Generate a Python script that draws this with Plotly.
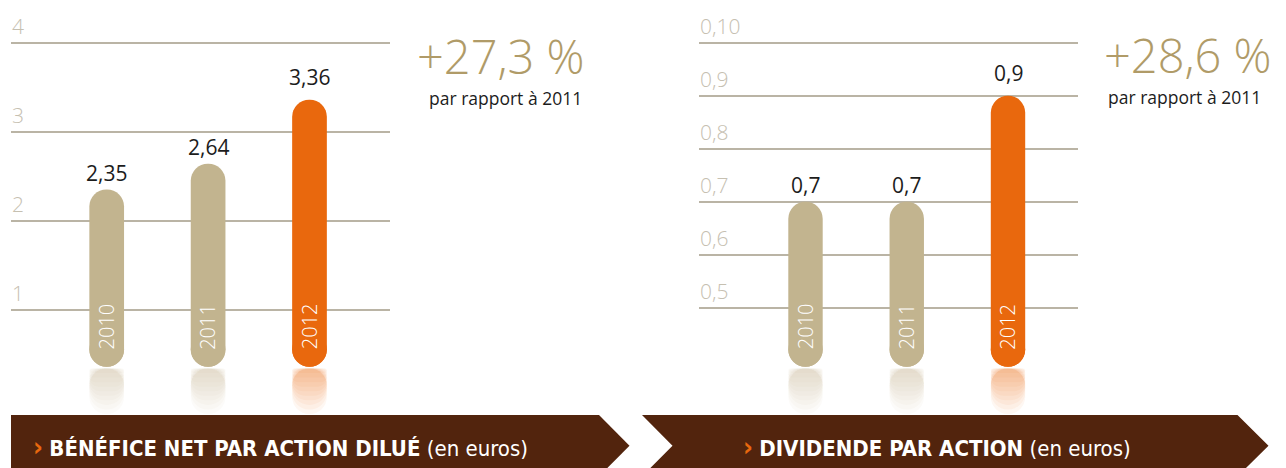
import plotly.graph_objects as go

# data
years = ["2010", "2011", "2012"]
eps = [2.35, 2.64, 3.36]           # bénéfice net par action dilué
dividend = [0.70, 0.70, 0.90]      # dividende par action
eps_ticks = [1, 2, 3, 4]
eps_ticktext = ["1", "2", "3", "4"]
div_ticks = [0.5, 0.6, 0.7, 0.8, 0.9, 1.0]
div_ticktext = ["0,5", "0,6", "0,7", "0,8", "0,9", "0,10"]
titles = ["BÉNÉFICE NET PAR ACTION DILUÉ", "DIVIDENDE PAR ACTION"]
unit = "(en euros)"

# the page body has an 8px margin, so the figure is a bit smaller and
# everything measured on the reference is shifted by OFF
OFF = 8
W, H = 1286 - OFF, 468 - OFF
BEIGE = "#c2b48f"
ORANGE = "#e9680d"
GOLD = "#b09b68"
BROWN = "#52240d"
GRID = "#bab4a5"
TICK = "#c6c0b1"
FONT = "Open Sans"
NARROW = "Liberation Sans Narrow, DejaVu Sans Condensed, sans-serif"


def px(x):
    return (x - OFF) / W


def py(y):
    return 1 - (y - OFF) / H


def fmt(v, nd):
    return f"{v:.{nd}f}".replace(".", ",")


# panel geometry, reference pixels
panels = [
    dict(xa="x", ya="y", x0=11, x1=390, c0=106.7, step=101.4, bwpx=34.7,
         zero=398.7, ppu=89.0, bottom=366.7,
         values=eps, ticks=eps_ticks, ticktext=eps_ticktext, nd=2,
         pct_x=501, pct_y=56, sub_x=505, sub_y=98),
    dict(xa="x2", ya="y2", x0=699, x1=1078, c0=805.5, step=101.25, bwpx=34.4,
         zero=572.7, ppu=530.0, bottom=366.7,
         values=dividend, ticks=div_ticks, ticktext=div_ticktext, nd=1,
         pct_x=1188, pct_y=54.5, sub_x=1184, sub_y=97),
]

fig = go.Figure()
annotations = []
colors = [BEIGE, BEIGE, ORANGE]

for i, p in enumerate(panels):
    val = lambda ypx, p=p: (p["zero"] - ypx) / p["ppu"]
    r = p["bwpx"] / 2
    bw = p["bwpx"] / p["step"]
    bottom = val(p["bottom"])
    foot = val(p["bottom"] - r)
    vals = p["values"]

    # the pill: one bar running from the cut-off bottom to the value
    fig.add_trace(go.Bar(
        x=years, y=[v - bottom for v in vals], base=[bottom] * 3, width=bw,
        marker=dict(color=colors, cornerradius="50%", line_width=0),
        xaxis=p["xa"], yaxis=p["ya"], hoverinfo="skip", showlegend=False))
    # rounded foot of the pill
    fig.add_trace(go.Scatter(
        x=years, y=[foot] * 3, mode="markers", cliponaxis=False,
        marker=dict(symbol="circle", size=p["bwpx"], color=colors,
                    line=dict(width=0)),
        xaxis=p["xa"], yaxis=p["ya"], hoverinfo="skip", showlegend=False))

    # faded reflection under each pill
    r_top = val(368.5)
    r_len = val(368.5) - val(414)
    n = 10
    for k in range(1, n + 1):
        h = r_len * k / n
        fig.add_trace(go.Bar(
            x=years, y=[h] * 3, base=[r_top - h] * 3, width=bw,
            marker=dict(color=colors, cornerradius=17, line_width=0, opacity=0.055),
            xaxis=p["xa"], yaxis=p["ya"], hoverinfo="skip", showlegend=False))

    # value labels above bars, years inside bars
    for j, v in enumerate(vals):
        annotations.append(dict(
            x=j, y=v, xref=p["xa"], yref=p["ya"], text=fmt(v, p["nd"]),
            showarrow=False, xanchor="center", yanchor="middle",
            yshift=23 if j == 2 else 17,
            font=dict(family=FONT, size=21, color="#1c1c1c", weight=500)))
        annotations.append(dict(
            x=j, y=bottom, xref=p["xa"], yref=p["ya"], text=years[j],
            textangle=-90, showarrow=False, xanchor="center", yanchor="bottom",
            yshift=15, font=dict(family=FONT, size=20, color="white", weight=300)))

    # tick labels sit above their gridlines
    for t, tt in zip(p["ticks"], p["ticktext"]):
        annotations.append(dict(
            x=px(p["x0"]), y=t, xref="paper", yref=p["ya"], text=tt,
            showarrow=False, xanchor="left", yanchor="middle", yshift=17, xshift=-1,
            font=dict(family=FONT, size=21, color=TICK, weight=300)))

    # growth vs previous year
    growth = (vals[2] / vals[1] - 1) * 100
    annotations.append(dict(
        x=px(p["pct_x"]), y=py(p["pct_y"]), xref="paper", yref="paper",
        text=f"+{fmt(growth, 1)} %", showarrow=False,
        xanchor="center", yanchor="middle",
        font=dict(family=FONT, size=47, color=GOLD, weight=300)))
    annotations.append(dict(
        x=px(p["sub_x"]), y=py(p["sub_y"]), xref="paper", yref="paper",
        text=f"par rapport à {years[1]}", showarrow=False,
        xanchor="center", yanchor="middle",
        font=dict(family=FONT, size=17.5, color="#1c1c1c", weight=500)))

    # axes
    xr = [(p["x0"] - p["c0"]) / p["step"], (p["x1"] - p["c0"]) / p["step"]]
    yr = [(p["zero"] - 468) / p["ppu"], (p["zero"] - OFF) / p["ppu"]]
    xname = "xaxis" if i == 0 else "xaxis2"
    yname = "yaxis" if i == 0 else "yaxis2"
    fig.update_layout({
        xname: dict(domain=[px(p["x0"]), px(p["x1"])], range=xr, anchor=p["ya"],
                    type="category", showgrid=False, showticklabels=False,
                    zeroline=False, showline=False, ticks=""),
        yname: dict(domain=[0, 1], range=yr, anchor=p["xa"], tickvals=p["ticks"],
                    showgrid=True, gridcolor=GRID, gridwidth=2,
                    showticklabels=False, zeroline=False, showline=False, ticks=""),
    })

# banners
mid, top, bot = 445.7, 415, 476.4
shapes = [
    dict(type="path", xref="paper", yref="paper", fillcolor=BROWN, line_width=0,
         path=f"M {px(11)},{py(top)} L {px(599)},{py(top)} L {px(629.5)},{py(mid)} "
              f"L {px(599)},{py(bot)} L {px(11)},{py(bot)} Z"),
    dict(type="path", xref="paper", yref="paper", fillcolor=BROWN, line_width=0,
         path=f"M {px(642)},{py(top)} L {px(1237.5)},{py(top)} L {px(1268.5)},{py(mid)} "
              f"L {px(1237.5)},{py(bot)} L {px(642)},{py(bot)} L {px(672.5)},{py(mid)} Z"),
]
for tx, title in zip([31, 741], titles):
    annotations.append(dict(
        x=px(tx), y=py(446), xref="paper", yref="paper", xanchor="left",
        yanchor="middle", showarrow=False,
        text=(f"<span style='color:{ORANGE};font-size:27px'><b>›</b></span> "
              f"<b>{title}</b> {unit}"),
        font=dict(family=NARROW, size=22, color="white")))

fig.update_layout(
    width=W, height=H, margin=dict(l=0, r=0, t=0, b=0),
    paper_bgcolor="white", plot_bgcolor="white",
    barmode="overlay", bargap=0.2, showlegend=False,
    annotations=annotations, shapes=shapes,
)

fig.write_html("out.html")
